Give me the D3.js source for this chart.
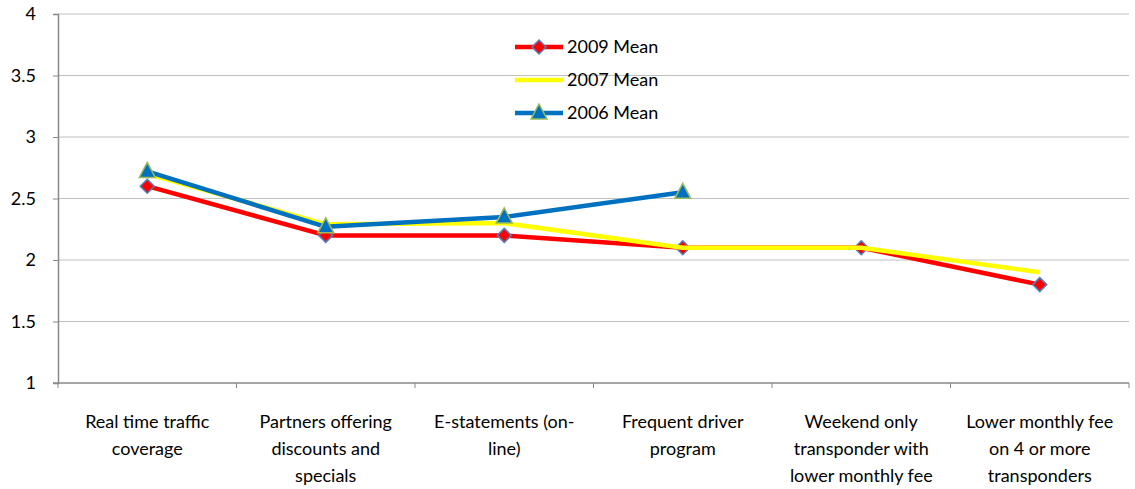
<!DOCTYPE html>
<html>
<head>
<meta charset="utf-8">
<script src="https://cdn.jsdelivr.net/npm/d3@7"></script>
<style>
  body { margin: 0; background: #fff; }
  text { font-family: Lato, "Open Sans", sans-serif; fill: #000; }
</style>
</head>
<body>
<div id="chart"></div>
<script>
// categories (multi-line labels)
var categories = [
  ["Real time  traffic", "coverage"],
  ["Partners offering", "discounts and", "specials"],
  ["E-statements  (on-", "line)"],
  ["Frequent driver", "program"],
  ["Weekend only", "transponder with", "lower monthly fee"],
  ["Lower monthly fee", "on 4 or more", "transponders"]
];
var mean2009 = [2.6, 2.2, 2.2, 2.1, 2.1, 1.8];
var mean2007 = [2.7, 2.29, 2.3, 2.1, 2.1, 1.9];
var mean2006 = [2.72, 2.27, 2.35, 2.55, null, null];
var yTicks = [1, 1.5, 2, 2.5, 3, 3.5, 4];

var series = [
  {name: "2009 Mean", values: mean2009, color: "#ff0000", marker: "diamond"},
  {name: "2007 Mean", values: mean2007, color: "#ffff00", marker: null},
  {name: "2006 Mean", values: mean2006, color: "#0070c0", marker: "triangle"}
];

var margin = {top: 14, right: 6, bottom: 106, left: 58},
    width = 1135 - margin.left - margin.right,
    height = 489 - margin.top - margin.bottom;

var svg = d3.select("#chart")
  .append("svg")
    .attr("width", 1135)
    .attr("height", 489)
  .append("g")
    .attr("transform", "translate(" + margin.left + "," + margin.top + ")");

var x = d3.scaleBand().domain(d3.range(categories.length)).range([0, width]);
var y = d3.scaleLinear().domain([1, 4]).range([height, 0]);

// gridlines
svg.selectAll(".grid")
  .data(yTicks.slice(1))
  .enter().append("line")
    .attr("x1", 0).attr("x2", width)
    .attr("y1", function(d) { return y(d); })
    .attr("y2", function(d) { return y(d); })
    .attr("stroke", "#c0c0c0")
    .attr("stroke-width", 1);

// y axis
var yAxis = svg.append("g")
  .call(d3.axisLeft(y).tickValues(yTicks).tickSize(5).tickPadding(17)
    .tickFormat(function(d) { return d; }));
yAxis.select(".domain").attr("stroke", "#888").attr("stroke-width", 1.5);
yAxis.selectAll(".tick line").attr("stroke", "#888");
yAxis.selectAll("text").style("font-size", "18px").attr("fill", "#000");

// x axis
var xAxis = svg.append("g")
  .attr("transform", "translate(0," + height + ")");
xAxis.append("line")
  .attr("x1", -5).attr("x2", width)
  .attr("stroke", "#888").attr("stroke-width", 1.5);
xAxis.selectAll(".xtick")
  .data(d3.range(categories.length + 1))
  .enter().append("line")
    .attr("x1", function(d) { return d * x.step(); })
    .attr("x2", function(d) { return d * x.step(); })
    .attr("y1", 0).attr("y2", 5)
    .attr("stroke", "#888");
xAxis.selectAll(".xlabel")
  .data(categories)
  .enter().append("text")
    .attr("text-anchor", "middle")
    .attr("transform", function(d, i) { return "translate(" + (x(i) + x.bandwidth() / 2) + ",0)"; })
    .style("font-size", "18px")
    .each(function(d) {
      var t = d3.select(this);
      d.forEach(function(line, j) {
        t.append("tspan").attr("x", 0).attr("y", 45 + j * 27).text(line);
      });
    });

var line = d3.line()
  .defined(function(d) { return d != null; })
  .x(function(d, i) { return x(i) + x.bandwidth() / 2; })
  .y(function(d) { return y(d); });

function drawMarker(g, type, cx, cy) {
  if (type === "diamond") {
    g.append("path")
      .attr("d", "M0,-7L7,0L0,7L-7,0Z")
      .attr("transform", "translate(" + cx + "," + cy + ")")
      .attr("fill", "#ff0000").attr("stroke", "#4f81bd").attr("stroke-width", 1.5);
  } else if (type === "triangle") {
    g.append("path")
      .attr("d", "M0,-9L8,6L-8,6Z")
      .attr("transform", "translate(" + cx + "," + cy + ")")
      .attr("fill", "#0070c0").attr("stroke", "#9bbb59").attr("stroke-width", 1.5);
  }
}

series.forEach(function(s) {
  svg.append("path")
    .datum(s.values)
    .attr("fill", "none")
    .attr("stroke", s.color)
    .attr("stroke-width", 4.5)
    .attr("stroke-linejoin", "round")
    .attr("d", line);
  var mg = svg.append("g");
  s.values.forEach(function(v, i) {
    if (v != null) drawMarker(mg, s.marker, x(i) + x.bandwidth() / 2, y(v));
  });
});

// legend
var legend = svg.append("g").attr("transform", "translate(457,33)");
series.forEach(function(s, i) {
  var g = legend.append("g").attr("transform", "translate(0," + (i * 33) + ")");
  g.append("line").attr("x1", 0).attr("x2", 48)
    .attr("stroke", s.color).attr("stroke-width", 4.5);
  drawMarker(g, s.marker, 24, 0);
  g.append("text").attr("x", 52).attr("y", 6)
    .style("font-size", "18px").text(s.name);
});
</script>
</body>
</html>
